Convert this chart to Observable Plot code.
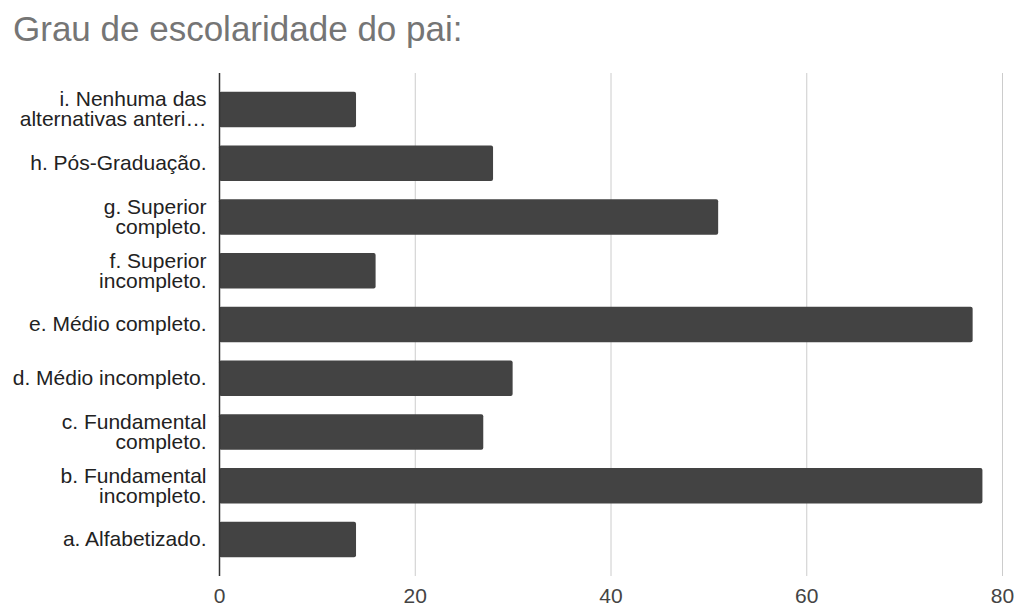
<!DOCTYPE html>
<html>
<head>
<meta charset="utf-8">
<script src="https://cdn.jsdelivr.net/npm/d3@7"></script>
<script src="https://cdn.jsdelivr.net/npm/@observablehq/plot@0.6"></script>
<style>
  html, body { margin: 0; padding: 0; background: #fff; }
  body { width: 1016px; height: 607px; position: relative; overflow: hidden; font-family: "Liberation Sans", Arial, sans-serif; }
  #title { position: absolute; left: 13px; top: 9px; font-size: 35px; line-height: 40px; color: #757575; white-space: nowrap; }
  #chart { position: absolute; left: 0; top: 60px; }
</style>
</head>
<body>
<div id="title">Grau de escolaridade do pai:</div>
<div id="chart"></div>
<script>
const categories = [
  "i. Nenhuma das\nalternativas anteri…",
  "h. Pós-Graduação.",
  "g. Superior\ncompleto.",
  "f. Superior\nincompleto.",
  "e. Médio completo.",
  "d. Médio incompleto.",
  "c. Fundamental\ncompleto.",
  "b. Fundamental\nincompleto.",
  "a. Alfabetizado."
];
const values = [14, 28, 51, 16, 77, 30, 27, 78, 14];
const xTicks = [0, 20, 40, 60, 80];

const data = categories.map((c, i) => ({category: c, value: values[i]}));

const chart = Plot.plot({
  width: 1016,
  height: 547,
  marginTop: 13,
  marginBottom: 31,
  marginLeft: 219,
  marginRight: 14,
  style: {fontFamily: "'Liberation Sans', Arial, sans-serif", fontSize: "21px", color: "#222", background: "#fff"},
  x: {domain: [0, 80], ticks: xTicks, label: null},
  y: {domain: categories, paddingInner: 0.34, paddingOuter: 0.35, round: false, label: null},
  marks: [
    Plot.gridX(xTicks.filter(d => d !== 0), {stroke: "#cccccc", strokeOpacity: 1, strokeWidth: 1}),
    Plot.barX(data, {x: "value", y: "category", fill: "#434343", rx: 2}),
    Plot.ruleX([0], {stroke: "#333", strokeWidth: 1.5}),
    Plot.axisX({ticks: xTicks, tickSize: 0, tickPadding: 12, fontSize: 21, fill: "#444", label: null}),
    Plot.axisY({tickSize: 0, tickPadding: 13, fontSize: 21, fill: "#222", lineHeight: 0.95, label: null})
  ]
});
document.getElementById("chart").appendChild(chart);
</script>
</body>
</html>
